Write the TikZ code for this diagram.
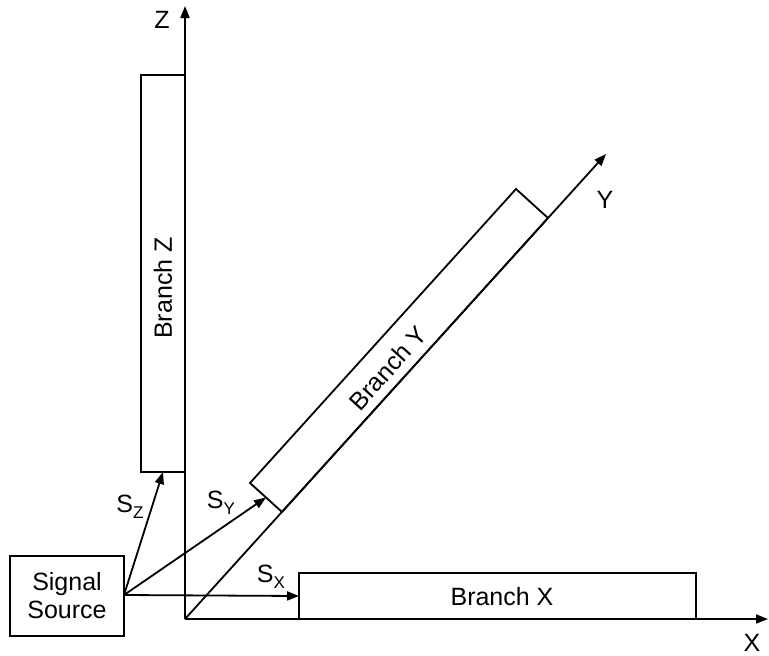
\documentclass[tikz,border=0pt]{standalone}
\usepackage{fontspec}
\setmainfont{Liberation Sans}
\usetikzlibrary{arrows.meta,calc}
\newcommand{\subl}[1]{\raisebox{-6pt}{\fontsize{17}{17}\selectfont #1}}
\begin{document}
\begin{tikzpicture}[x=1pt,y=-1pt,
  ln/.style={line width=1.8pt, line join=miter},
  arr/.style={ln, -{Triangle[length=12pt,width=9pt]}},
  lbl/.style={font=\fontsize{25}{28}\selectfont, inner sep=0pt},
  box/.style={ln, draw, fill=white, inner sep=0pt}]
\useasboundingbox (0,0) rectangle (769,656);
% axes
\coordinate (O) at (185,619);
\coordinate (Zend) at (185,6);
\coordinate (Xend) at (768,619);
\coordinate (Yend) at (606,154);
\draw[arr] (O) -- (Zend);
\draw[arr] (O) -- (Xend);
\draw[arr] (O) -- (Yend);
% Branch Z
\draw[ln] (185,75) -- (141,75) -- (141,472) -- (185,472);
\node[lbl, rotate=90] (bz) at (163,288) {Branch Z};
\coordinate (bzb) at (163,472);
% Branch X
\draw[ln] (299,619) -- (299,573) -- (696,573) -- (696,619);
\node[lbl] (bx) at (502,597) {Branch X};
\coordinate (bxl) at (299,596);
% Branch Y
\coordinate (A) at (282,512);
\coordinate (B) at (548,218);
\coordinate (C) at (516,189);
\coordinate (D) at (250,483);
\draw[ln] (A) -- (D) -- (C) -- (B);
\draw[ln] (A) -- (B);
\node[lbl, rotate=47.85] (by) at (388,368) {Branch Y};
\coordinate (byb) at ($(A)!0.5!(D)$);
% Signal source
\node[box, lbl, minimum width=114pt, minimum height=80pt, align=center] (src) at (67,596) {Signal\\Source};
\coordinate (s) at (124,595);
\draw[arr] (s) -- (bzb);
\draw[arr] (s) -- (byb);
\draw[arr] (s) -- (bxl);
% labels
\node[lbl] (sz) at (130,507) {S\subl{Z}};
\node[lbl] (sy) at (221,503) {S\subl{Y}};
\node[lbl] (sx) at (271,577) {S\subl{X}};
\node[lbl] (zl) at (162,20) {Z};
\node[lbl] (yl) at (605,200) {Y};
\node[lbl] (xl) at (752,643) {X};
\end{tikzpicture}
\end{document}
